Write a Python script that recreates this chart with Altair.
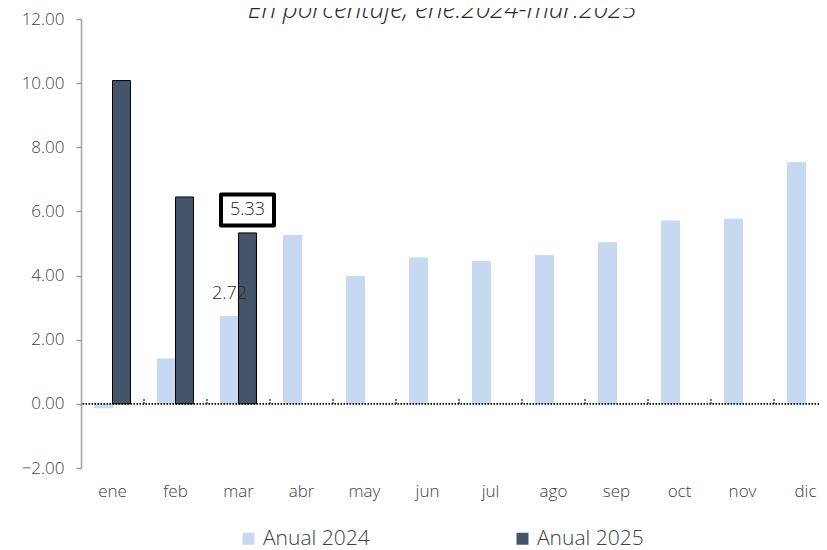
import altair as alt
import pandas as pd

months = ["ene", "feb", "mar", "abr", "may", "jun", "jul", "ago", "sep", "oct", "nov", "dic"]
series_names = ["Anual 2024", "Anual 2025"]
values_2024 = [-0.12, 1.40, 2.72, 5.25, 3.97, 4.55, 4.44, 4.63, 5.02, 5.70, 5.76, 7.52]
values_2025 = [10.08, 6.45, 5.33]

label_months = ["mar", "mar"]
label_series = ["Anual 2024", "Anual 2025"]
label_values = [2.72, 5.33]
label_texts = ["2.72", "5.33"]

title_text = "En porcentaje, ene.2024-mar.2025"
FONT = "Open Sans"
TXT = "#404040"

rows = [{"month": m, "series": series_names[0], "value": v} for m, v in zip(months, values_2024)]
rows += [{"month": m, "series": series_names[1], "value": v} for m, v in zip(months, values_2025)]
df = pd.DataFrame(rows)

lab = pd.DataFrame({"month": label_months, "series": label_series,
                    "value": label_values, "text": label_texts})
boxdf = lab[lab["series"] == "Anual 2025"]
bounds = pd.DataFrame({"month": months})

xscale = alt.Scale(domain=months, range=[0, 756], paddingInner=0.4286, paddingOuter=0.2143)
yscale = alt.Scale(domain=[-2, 12], nice=False, zero=False)
offscale = alt.Scale(domain=series_names, paddingInner=0, paddingOuter=0)

x_enc = alt.X("month:N", scale=xscale, sort=months,
              axis=alt.Axis(title=None, domain=False, ticks=False, labelAngle=0,
                            labelPadding=15, labelFontSize=17, labelFont=FONT,
                            labelColor=TXT, labelFontWeight=300))
y_enc = alt.Y("value:Q", scale=yscale,
              axis=alt.Axis(title=None, values=[-2, 0, 2, 4, 6, 8, 10, 12], format=".2f",
                            grid=False, domainColor="#A0A0A0", tickColor="#A0A0A0",
                            domainWidth=1.5, tickWidth=1.5, tickSize=5, labelPadding=12,
                            labelFontSize=17, labelFont=FONT, labelColor=TXT,
                            labelFontWeight=300))

bars = alt.Chart(df).mark_bar(strokeWidth=1).encode(
    x=x_enc,
    y=y_enc,
    xOffset=alt.XOffset("series:N", scale=offscale, sort=series_names),
    fill=alt.Fill("series:N", sort=series_names,
                  scale=alt.Scale(domain=series_names, range=["#C6D9F0", "#445469"]),
                  legend=alt.Legend(title=None, orient="none", direction="horizontal",
                                    legendX=157, legendY=509, symbolType="square",
                                    symbolSize=144, labelFontSize=21, labelFont=FONT,
                                    labelColor=TXT, labelFontWeight=300, labelOffset=4,
                                    columnPadding=142, padding=0,
                                    symbolStrokeWidth=0)),
    stroke=alt.Stroke("series:N", sort=series_names,
                      scale=alt.Scale(domain=series_names, range=["#C6D9F0", "#000000"]),
                      legend=None),
)

zero = alt.Chart(pd.DataFrame({"v": [0]})).mark_rule(
    color="black", strokeDash=[1.5, 1.5], strokeWidth=1.6
).encode(y=alt.Y("v:Q", scale=yscale))

ticks = alt.Chart(bounds).mark_rule(
    color="black", strokeDash=[1.5, 1.5], strokeWidth=1.4, xOffset=13.5
).encode(
    x=alt.X("month:N", scale=xscale, sort=months, bandPosition=1),
    y=alt.datum(0),
    y2=alt.datum(0.16),
)

box = alt.Chart(boxdf).mark_point(
    shape="M-1,-0.585H1V0.585H-1Z", size=2809, filled=False, stroke="black",
    strokeWidth=4, strokeJoin="round", fill="white", fillOpacity=1, opacity=1
).encode(
    x=alt.X("month:N", scale=xscale, sort=months),
    xOffset=alt.XOffset("series:N", scale=offscale, sort=series_names),
    y=alt.Y("value:Q", scale=yscale),
    yOffset=alt.value(-23),
)

labels = alt.Chart(lab).mark_text(
    font=FONT, fontSize=18, fontWeight=300, color="#262626", dy=-23
).encode(
    x=alt.X("month:N", scale=xscale, sort=months),
    xOffset=alt.XOffset("series:N", scale=offscale, sort=series_names),
    y=alt.Y("value:Q", scale=yscale),
    text="text:N",
)

chart = alt.layer(bars, zero, ticks, box, labels).properties(
    width=738, height=449,
    title=alt.TitleParams(title_text, font=FONT, fontSize=26, fontStyle="italic",
                          fontWeight=300, color="#262626", anchor="middle", frame="group",
                          dx=-8, offset=-13),
    autosize=alt.AutoSizeParams(type="none"),
    padding={"left": 73, "top": 11, "right": 0, "bottom": 82},
).configure_view(stroke=None)

chart.save("out.html", embed_options={"renderer": "svg", "actions": False})
